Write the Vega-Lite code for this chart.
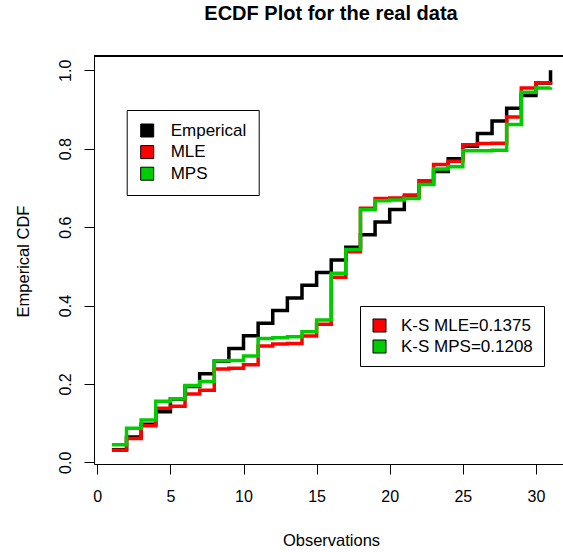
{
  "$schema": "https://vega.github.io/schema/vega-lite/v6.json",
  "width": 469,
  "height": 408,
  "autosize": {"type": "none"},
  "padding": {"left": 94, "top": 56, "right": 0, "bottom": 88},
  "background": "white",
  "title": {
    "text": "ECDF Plot for the real data",
    "fontSize": 20,
    "fontWeight": "bold",
    "font": "Liberation Sans",
    "color": "black",
    "anchor": "middle",
    "frame": "group",
    "baseline": "alphabetic",
    "offset": 16,
    "dx": 2.5
  },
  "config": {"view": {"stroke": null}, "font": "Liberation Sans"},
  "data": {
    "values": [
      {"obs": 1, "Emperical": 0.0323, "MLE": 0.031, "MPS": 0.045},
      {"obs": 2, "Emperical": 0.0645, "MLE": 0.061, "MPS": 0.087},
      {"obs": 3, "Emperical": 0.0968, "MLE": 0.093, "MPS": 0.108},
      {"obs": 4, "Emperical": 0.129, "MLE": 0.138, "MPS": 0.156},
      {"obs": 5, "Emperical": 0.1613, "MLE": 0.143, "MPS": 0.162},
      {"obs": 6, "Emperical": 0.1935, "MLE": 0.174, "MPS": 0.196},
      {"obs": 7, "Emperical": 0.2258, "MLE": 0.184, "MPS": 0.206},
      {"obs": 8, "Emperical": 0.2581, "MLE": 0.238, "MPS": 0.259},
      {"obs": 9, "Emperical": 0.2903, "MLE": 0.24, "MPS": 0.26},
      {"obs": 10, "Emperical": 0.3226, "MLE": 0.249, "MPS": 0.271},
      {"obs": 11, "Emperical": 0.3548, "MLE": 0.297, "MPS": 0.316},
      {"obs": 12, "Emperical": 0.3871, "MLE": 0.302, "MPS": 0.318},
      {"obs": 13, "Emperical": 0.4194, "MLE": 0.303, "MPS": 0.32},
      {"obs": 14, "Emperical": 0.4516, "MLE": 0.322, "MPS": 0.333},
      {"obs": 15, "Emperical": 0.4839, "MLE": 0.352, "MPS": 0.363},
      {"obs": 16, "Emperical": 0.5161, "MLE": 0.472, "MPS": 0.482},
      {"obs": 17, "Emperical": 0.5484, "MLE": 0.537, "MPS": 0.543},
      {"obs": 18, "Emperical": 0.5806, "MLE": 0.648, "MPS": 0.644},
      {"obs": 19, "Emperical": 0.6129, "MLE": 0.673, "MPS": 0.667},
      {"obs": 20, "Emperical": 0.6452, "MLE": 0.674, "MPS": 0.669},
      {"obs": 21, "Emperical": 0.6774, "MLE": 0.682, "MPS": 0.673},
      {"obs": 22, "Emperical": 0.7097, "MLE": 0.718, "MPS": 0.709},
      {"obs": 23, "Emperical": 0.7419, "MLE": 0.76, "MPS": 0.748},
      {"obs": 24, "Emperical": 0.7742, "MLE": 0.768, "MPS": 0.754},
      {"obs": 25, "Emperical": 0.8065, "MLE": 0.81, "MPS": 0.795},
      {"obs": 26, "Emperical": 0.8387, "MLE": 0.813, "MPS": 0.795},
      {"obs": 27, "Emperical": 0.871, "MLE": 0.814, "MPS": 0.796},
      {"obs": 28, "Emperical": 0.9032, "MLE": 0.881, "MPS": 0.862},
      {"obs": 29, "Emperical": 0.9355, "MLE": 0.955, "MPS": 0.944},
      {"obs": 30, "Emperical": 0.9677, "MLE": 0.968, "MPS": 0.955},
      {"obs": 31, "Emperical": 1.0, "MLE": 0.97, "MPS": 0.957}
    ]
  },
  "layer": [
    {
      "mark": {"type": "rule", "color": "black", "strokeWidth": 1},
      "encoding": {
        "y": {"datum": 1.0365, "type": "quantitative", "scale": {"domain": [-0.0043, 1.0365], "nice": false, "zero": false}}
      }
    },
    {
      "mark": {"type": "line", "interpolate": "step-after", "strokeWidth": 3.5},
      "encoding": {
        "x": {
          "field": "obs", "type": "quantitative",
          "scale": {"domain": [-0.226, 31.853], "nice": false, "zero": false},
          "axis": {
            "orient": "bottom",
            "values": [0, 5, 10, 15, 20, 25, 30],
            "format": "d",
            "labelAngle": 0,
            "labelFlush": false,
            "labelOverlap": false,
            "labelPadding": 14,
            "labelFontSize": 16,
            "labelColor": "black",
            "labelFont": "Liberation Sans",
            "tickSize": 10,
            "tickColor": "black",
            "tickWidth": 1,
            "domainColor": "black",
            "domainWidth": 1,
            "grid": false,
            "title": "Observations",
            "titleFont": "Liberation Sans",
            "titleFontSize": 16.5,
            "titleFontWeight": "normal",
            "titleColor": "black",
            "titleBaseline": "alphabetic",
            "titleAlign": "center",
            "titleX": 237,
            "titleY": 81
          }
        },
        "y": {
          "field": "Emperical", "type": "quantitative",
          "title": "Emperical CDF",
          "scale": {"domain": [-0.0043, 1.0365], "nice": false, "zero": false},
          "axis": {
            "values": [0, 0.2, 0.4, 0.6, 0.8, 1],
            "format": ".1f",
            "labelAngle": 270,
            "labelAlign": "center",
            "labelBaseline": "alphabetic",
            "labelFlush": false,
            "labelOverlap": false,
            "labelPadding": 14,
            "labelFontSize": 16,
            "labelColor": "black",
            "labelFont": "Liberation Sans",
            "tickSize": 10,
            "tickColor": "black",
            "tickWidth": 1,
            "domainColor": "black",
            "domainWidth": 1,
            "grid": false,
            "title": "Emperical CDF",
            "titleFont": "Liberation Sans",
            "titleFontSize": 16.5,
            "titleFontWeight": "normal",
            "titleColor": "black",
            "titleAngle": 270,
            "titleBaseline": "alphabetic",
            "titleAlign": "center",
            "titleX": -65.5,
            "titleY": 205
          }
        },
        "stroke": {
          "datum": "Emperical",
          "scale": {"domain": ["Emperical", "MLE", "MPS"], "range": ["#000000", "#FF0000", "#00CD00"]},
          "legend": null
        }
      }
    },
    {
      "mark": {"type": "line", "interpolate": "step-after", "strokeWidth": 3.5},
      "encoding": {
        "x": {"field": "obs", "type": "quantitative"},
        "y": {"field": "MLE", "type": "quantitative", "title": "Emperical CDF"},
        "stroke": {"datum": "MLE", "legend": null}
      }
    },
    {
      "mark": {"type": "line", "interpolate": "step-after", "strokeWidth": 3.5},
      "encoding": {
        "x": {"field": "obs", "type": "quantitative"},
        "y": {"field": "MPS", "type": "quantitative", "title": "Emperical CDF"},
        "stroke": {"datum": "MPS", "legend": null}
      }
    },
    {
      "layer": [
        {
          "mark": {"type": "square", "opacity": 0},
          "encoding": {
            "color": {
              "datum": "Emperical",
              "scale": {"domain": ["Emperical", "MLE", "MPS"], "range": ["#000000", "#FF0000", "#00CD00"]},
              "legend": {
                "orient": "none",
                "legendX": 32.7,
                "legendY": 54,
                "title": null,
                "padding": 12,
                "strokeColor": "black",
                "fillColor": "white",
                "symbolType": "square",
                "symbolSize": 169,
                "symbolStrokeColor": "black",
                "symbolStrokeWidth": 1,
                "symbolOpacity": 1,
                "labelFont": "Liberation Sans",
                "labelFontSize": 17,
                "labelColor": "black",
                "labelOffset": 15,
                "rowPadding": 3.6,
                "encode": {"symbols": {"update": {"stroke": {"value": "black"}, "strokeWidth": {"value": 1}, "opacity": {"value": 1}}}}
              }
            }
          }
        },
        {
          "mark": {"type": "square", "opacity": 0},
          "encoding": {
            "color": {
              "datum": "K-S MLE=0.1375",
              "scale": {"domain": ["K-S MLE=0.1375", "K-S MPS=0.1208"], "range": ["#FF0000", "#00CD00"]},
              "legend": {
                "orient": "none",
                "legendX": 266,
                "legendY": 250,
                "title": null,
                "padding": 11,
                "strokeColor": "black",
                "fillColor": "white",
                "symbolType": "square",
                "symbolSize": 169,
                "symbolStrokeColor": "black",
                "symbolStrokeWidth": 1,
                "symbolOpacity": 1,
                "labelFont": "Liberation Sans",
                "labelFontSize": 17,
                "labelColor": "black",
                "labelOffset": 13,
                "rowPadding": 3,
                "encode": {"symbols": {"update": {"stroke": {"value": "black"}, "strokeWidth": {"value": 1}, "opacity": {"value": 1}}}}
              }
            }
          }
        }
      ],
      "resolve": {"scale": {"color": "independent"}, "legend": {"color": "independent"}}
    }
  ]
}
